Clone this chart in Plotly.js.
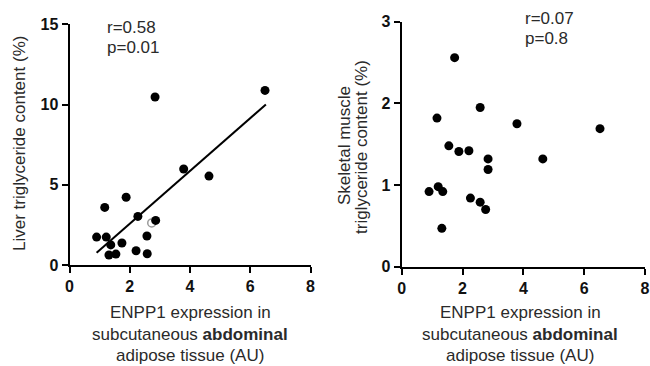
<!DOCTYPE html>
<html>
<head>
<meta charset="utf-8">
<script src="https://cdn.plot.ly/plotly-3.0.1.min.js"></script>
<style>html,body{margin:0;padding:0;background:#fff;}#chart{width:650px;height:366px;}</style>
</head>
<body>
<div id="chart"></div>
<script>
// ENPP1 expression (AU) vs liver triglyceride content (%)
const liverX = [0.90, 1.22, 1.37, 1.31, 1.54, 1.74, 1.17, 1.88, 2.27, 2.21, 2.57, 2.58, 2.86, 2.84, 3.79, 4.63, 6.49];
const liverY = [1.74, 1.74, 1.25, 0.62, 0.68, 1.37, 3.59, 4.22, 3.03, 0.89, 1.81, 0.70, 2.78, 10.47, 5.98, 5.54, 10.88];
// faint (partly hidden) point in the liver panel
const liverFaintX = [2.73];
const liverFaintY = [2.62];
// regression line endpoints
const fitX = [0.90, 6.52];
const fitY = [0.77, 10.0];
// ENPP1 expression (AU) vs skeletal muscle triglyceride content (%)
const muscleX = [1.74, 2.58, 1.16, 3.79, 6.52, 1.55, 1.88, 2.21, 2.84, 4.64, 2.84, 0.90, 1.20, 1.35, 2.26, 2.58, 2.76, 1.32];
const muscleY = [2.56, 1.95, 1.82, 1.75, 1.69, 1.48, 1.41, 1.42, 1.32, 1.32, 1.19, 0.92, 0.98, 0.92, 0.84, 0.79, 0.70, 0.47];

const xTicks = [0, 2, 4, 6, 8];
const liverTicks = [0, 5, 10, 15];
const muscleTicks = [0, 1, 2, 3];

const W = 650, H = 366;
const px = v => v / W;
const py = v => 1 - v / H;

const FONT = 'Liberation Sans, Arial, sans-serif';
const tickFont = {family: FONT, size: 16, color: '#111', weight: 'bold'};
const titleFont = {family: FONT, size: 17, color: '#2a2a2a'};

const markerStyle = {color: '#000', size: 9, line: {width: 0}};

const data = [
  {x: fitX, y: fitY, xaxis: 'x', yaxis: 'y', mode: 'lines', line: {color: '#000', width: 2}, hoverinfo: 'skip'},
  {x: liverFaintX, y: liverFaintY, xaxis: 'x', yaxis: 'y', mode: 'markers',
   marker: {symbol: 'circle-open', color: '#9a9a9a', size: 8, line: {width: 1.5, color: '#9a9a9a'}}},
  {x: liverX, y: liverY, xaxis: 'x', yaxis: 'y', mode: 'markers', marker: markerStyle},
  {x: muscleX, y: muscleY, xaxis: 'x2', yaxis: 'y2', mode: 'markers', marker: markerStyle}
];

const axisCommon = {
  showline: true, linecolor: '#000', linewidth: 2,
  ticks: 'outside', ticklen: 6, tickwidth: 2, tickcolor: '#000',
  showgrid: false, zeroline: false, tickfont: tickFont, fixedrange: true
};

const layout = {
  width: W, height: H,
  margin: {l: 0, r: 0, t: 0, b: 0},
  paper_bgcolor: '#fff', plot_bgcolor: '#fff',
  showlegend: false,
  xaxis: Object.assign({}, axisCommon, {domain: [px(69.5), px(310.5)], range: [0, 8], tickvals: xTicks, anchor: 'y'}),
  yaxis: Object.assign({}, axisCommon, {domain: [py(265), py(24.3)], range: [0, 15], tickvals: liverTicks, anchor: 'x'}),
  xaxis2: Object.assign({}, axisCommon, {domain: [px(401.7), px(645)], range: [0, 8], tickvals: xTicks, anchor: 'y2'}),
  yaxis2: Object.assign({}, axisCommon, {domain: [py(266.7), py(21.7)], range: [0, 3], tickvals: muscleTicks, anchor: 'x2'}),
  annotations: []
};

function ann(text, x, y, opts) {
  return Object.assign({text: text, x: px(x), y: py(y), xref: 'paper', yref: 'paper',
    showarrow: false, font: titleFont, xanchor: 'center', yanchor: 'middle',
    borderpad: 0, borderwidth: 0}, opts || {});
}

layout.annotations.push(
  // left panel
  ann('Liver triglyceride content (%)', 19, 144, {textangle: -90}),
  ann('r=0.58', 107, 28, {xanchor: 'left'}),
  ann('p=0.01', 107, 47, {xanchor: 'left'}),
  ann('ENPP1 expression in', 190, 312),
  ann('subcutaneous <b>abdominal</b>', 190, 334),
  ann('adipose tissue (AU)', 190, 355),
  // right panel
  ann('Skeletal muscle', 344, 146, {textangle: -90}),
  ann('triglyceride content (%)', 361, 147, {textangle: -90}),
  ann('r=0.07', 525, 19, {xanchor: 'left'}),
  ann('p=0.8', 525, 38, {xanchor: 'left'}),
  ann('ENPP1 expression in', 520, 312),
  ann('subcutaneous <b>abdominal</b>', 520, 334),
  ann('adipose tissue (AU)', 520, 355)
);

Plotly.newPlot('chart', data, layout, {staticPlot: true, displayModeBar: false});
</script>
</body>
</html>
